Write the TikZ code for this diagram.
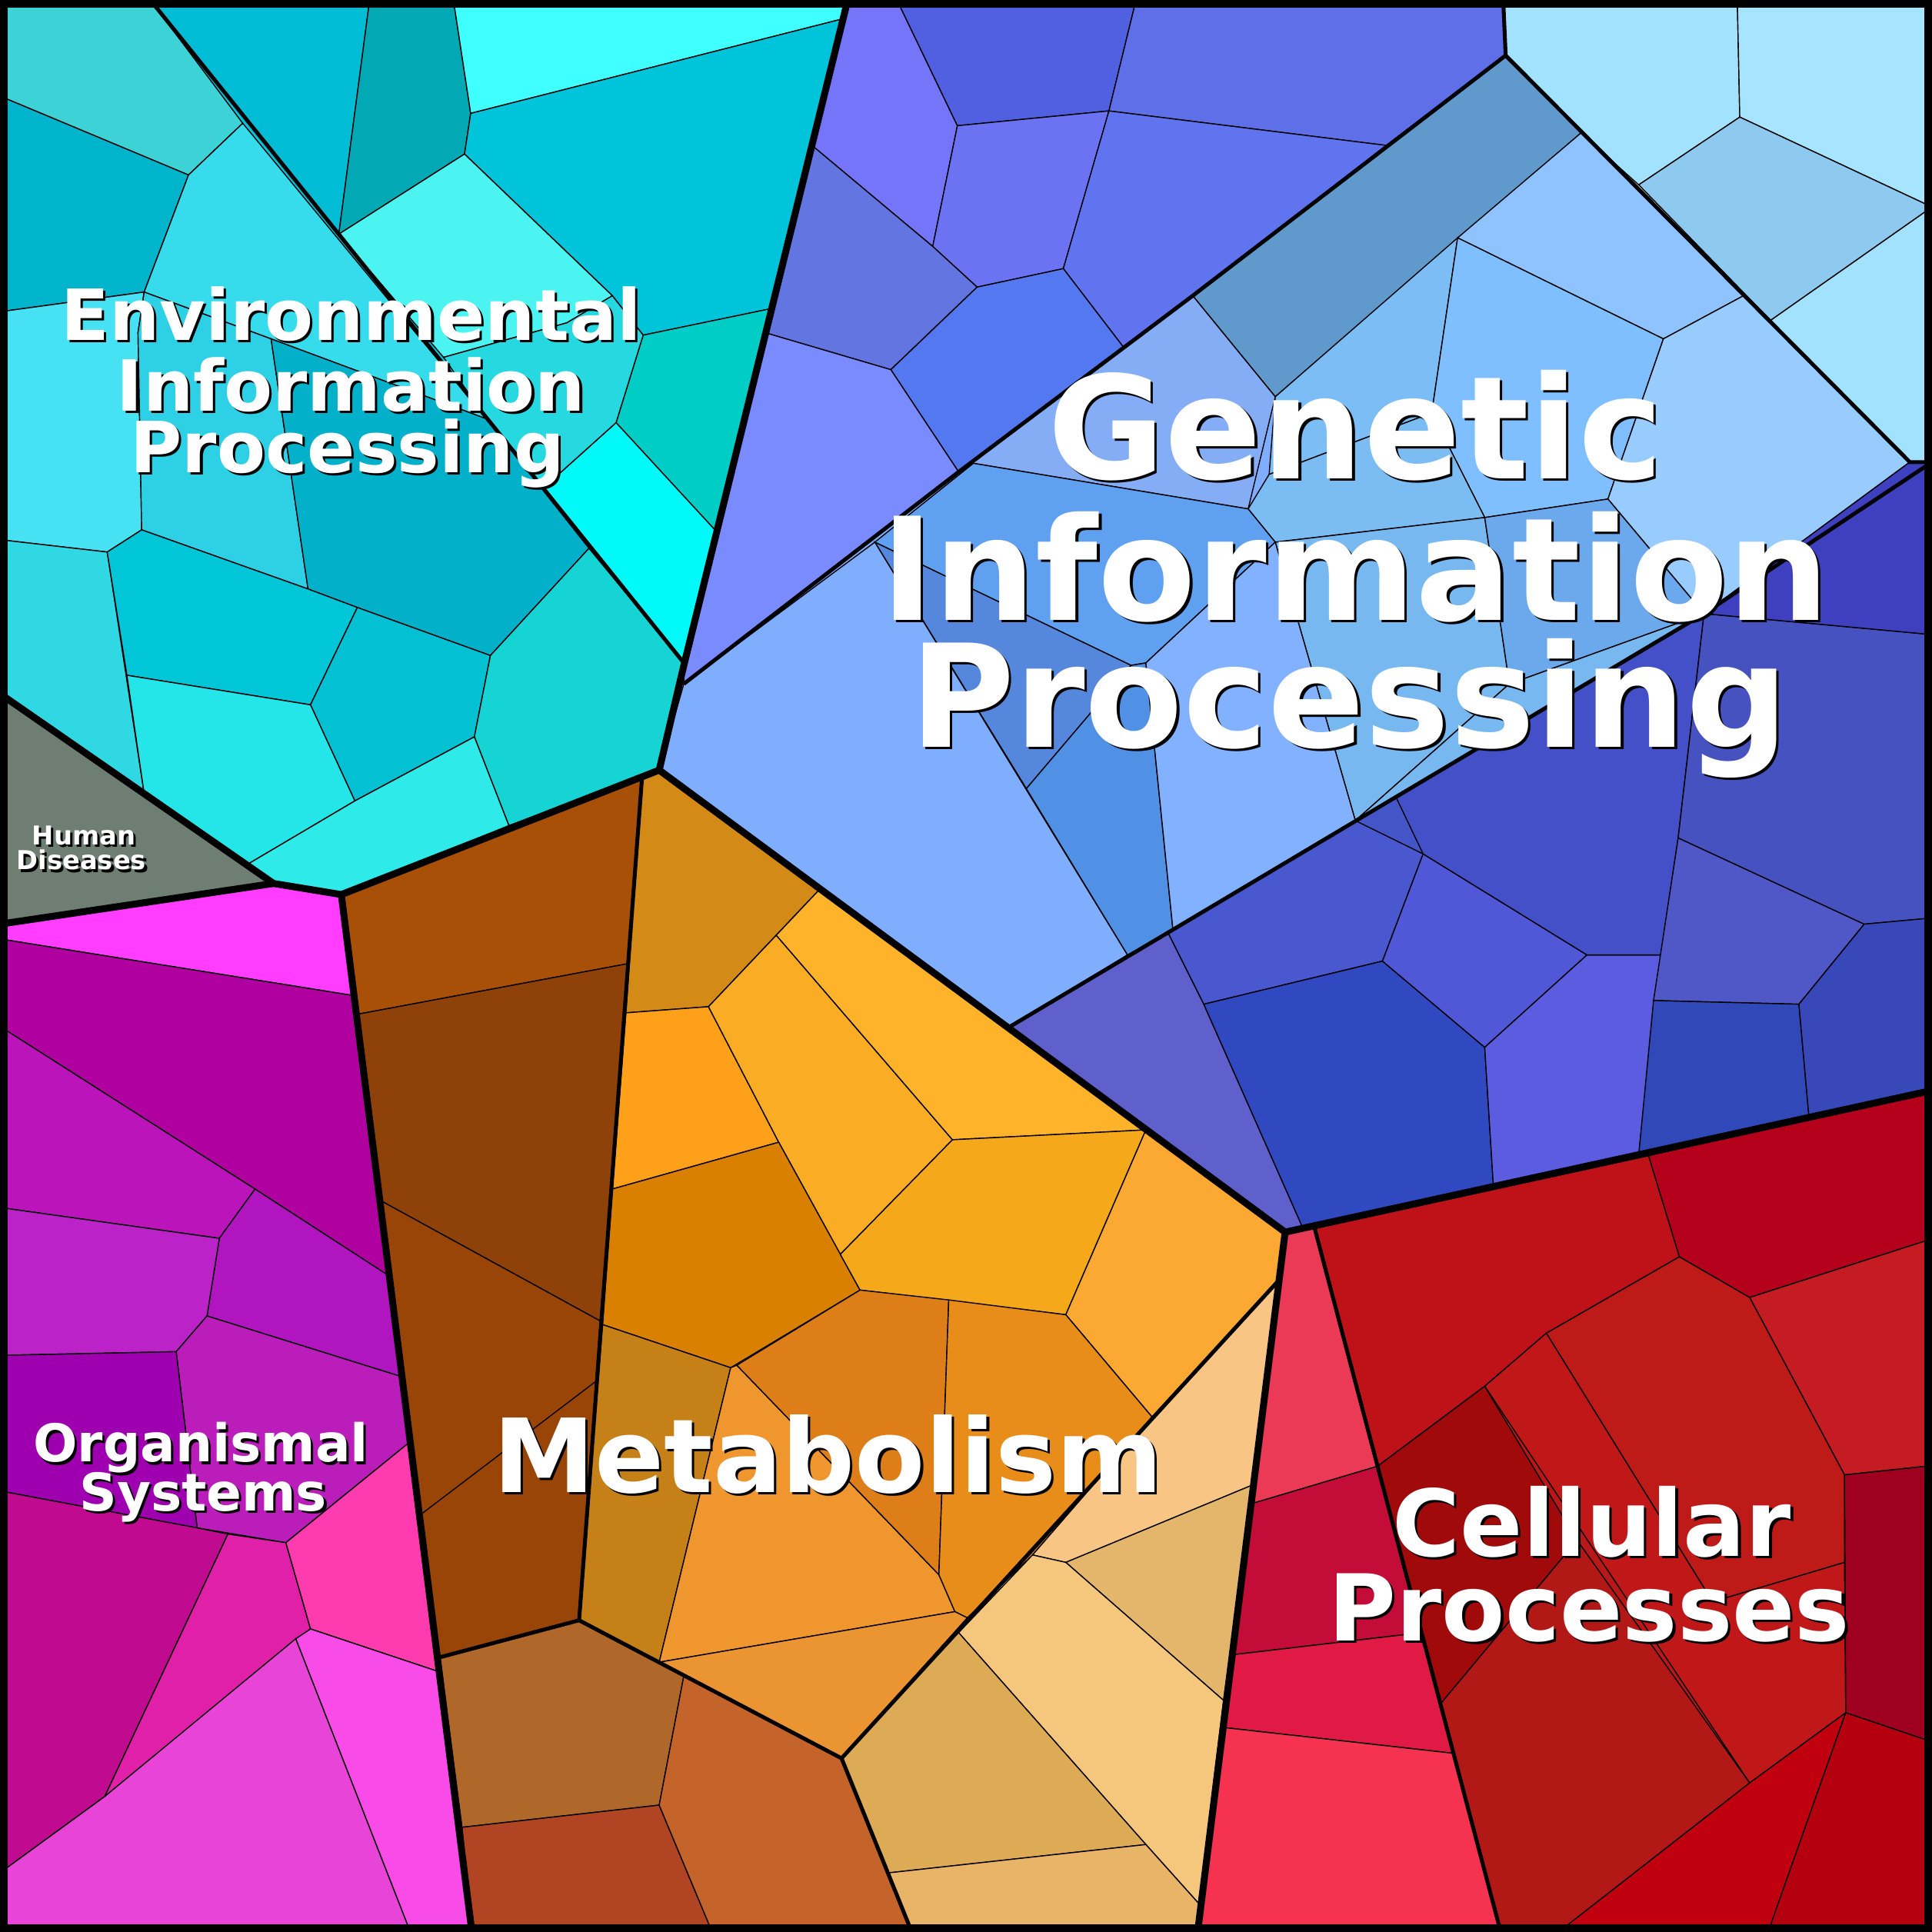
\documentclass[tikz,border=0pt]{standalone}
\usepackage{fontspec}
\setmainfont{DejaVu Sans}
\begin{document}
\begin{tikzpicture}[x=0.01cm,y=-0.01cm,
 cellline/.style={draw=black,line width=0.25pt},
 band/.style={draw=black,line width=0.9pt},
 main/.style={draw=black,line width=1.6pt,line join=round},
 lbl/.style={text=white,font=\bfseries,align=center,inner sep=0pt}]
\newcommand\cell[2]{\definecolor{tmpc}{HTML}{#1}\filldraw[cellline,fill=tmpc] #2 -- cycle;}
\newcommand\base[2]{\definecolor{tmpc}{HTML}{#1}\fill[tmpc] #2 -- cycle;}
\newcommand\lab[4]{\node[lbl,text=black,font=\bfseries\fontsize{#3}{#3}\selectfont] at ([shift={(2,2)}]#1) {#4};
 \node[lbl,font=\bfseries\fontsize{#3}{#3}\selectfont] (#2) at (#1) {#4};}
\useasboundingbox (0,0) rectangle (1568,1568);
% base fills
\base{00C4DA}{(0,0)--(688,0)--(555,540)--(535,625)--(277,726)--(222,717)--(0,563)}
\base{80AEFF}{(555,555)--(1222,45)--(1550,375)--(820,833)--(535,625)}
\base{4455C8}{(820,833)--(1563,375)--(1563,885)--(1043,1000)}
\base{B81818}{(1043,1000)--(1563,885)--(1563,1568)--(972,1568)}
% Environmental cells
\cell{3DD3D6}{(0,0)--(122,0)--(197,100)--(153,142)--(0,78)}
\cell{00B4CC}{(0,78)--(153,142)--(117,237)--(0,253)}
\cell{00BCD4}{(122,0)--(300,0)--(275,190)}
\cell{02A9B5}{(300,0)--(368,0)--(382,92)--(377,125)--(275,190)}
\cell{40FFFF}{(368,0)--(688,0)--(685,15)--(382,92)}
\cell{00C4DA}{(382,92)--(685,15)--(628,250)--(522,272)--(497,240)--(377,125)}
\cell{4BF4F0}{(275,190)--(377,125)--(497,240)--(460,262)--(360,290)}
\cell{00CEC6}{(522,272)--(628,250)--(582,432)--(500,343)}
\cell{00FAFA}{(500,343)--(582,432)--(555,538)--(441,396)}
\cell{26D9E0}{(360,290)--(460,262)--(497,240)--(522,272)--(500,343)--(441,396)--(395,340)}
\cell{36DCEC}{(153,142)--(197,100)--(395,340)--(220,275)--(117,237)}
\cell{46E2F4}{(0,253)--(117,237)--(112,270)--(115,430)--(87,448)--(0,438)}
\cell{2ED0E5}{(117,237)--(220,275)--(250,478)--(115,430)--(112,270)}
\cell{02B0CA}{(220,275)--(395,340)--(478,445)--(398,532)--(290,493)--(250,478)}
\cell{30D8E4}{(0,438)--(87,448)--(117,644)--(0,563)}
\cell{00C6D8}{(87,448)--(115,430)--(250,478)--(290,493)--(252,572)--(103,548)}
\cell{03C0D2}{(290,493)--(398,532)--(385,598)--(288,650)--(252,572)}
\cell{17D4D4}{(398,532)--(478,445)--(555,538)--(535,625)--(413,670)--(385,598)}
\cell{24E5E8}{(103,548)--(252,572)--(288,650)--(200,702)--(117,644)}
\cell{2EEAE8}{(288,650)--(385,598)--(413,670)--(277,726)--(222,717)--(200,702)}
\cell{6E7E72}{(0,563)--(222,717)--(0,750)}
% Organismal
\cell{FF3CFF}{(0,750)--(222,717)--(277,726)--(287,808)--(0,762)}
\cell{B0009F}{(0,762)--(287,808)--(315,1035)--(207,965)--(0,833)}
\cell{BA14BA}{(0,833)--(207,965)--(178,1005)--(0,980)}
\cell{B015C0}{(207,965)--(315,1035)--(325,1117)--(168,1068)--(178,1005)}
\cell{BB22C8}{(0,980)--(178,1005)--(168,1068)--(143,1097)--(0,1100)}
\cell{BB1DBB}{(143,1097)--(168,1068)--(325,1117)--(333,1170)--(232,1252)--(160,1240)}
\cell{9F00AF}{(0,1100)--(143,1097)--(160,1240)--(0,1210)}
\cell{C00A90}{(0,1210)--(160,1240)--(185,1245)--(85,1458)--(0,1520)}
\cell{E020A8}{(185,1245)--(232,1252)--(252,1322)--(85,1458)}
\cell{FF3BB0}{(232,1252)--(333,1170)--(357,1357)--(252,1322)}
\cell{F84BE8}{(252,1322)--(357,1357)--(383,1568)--(333,1568)--(240,1330)}
\cell{E845D8}{(0,1520)--(85,1458)--(240,1330)--(333,1568)--(0,1568)}
% Metabolism
\cell{A85007}{(277,726)--(521,632)--(510,782)--(291,823)}
\cell{8E4209}{(291,823)--(510,782)--(487,1072)--(310,975)}
\cell{9A4508}{(310,975)--(487,1072)--(470,1315)--(357,1345)}
\draw[cellline] (343,1228)--(485,1120);
\cell{D48A16}{(521,632)--(535,625)--(665,722)--(575,817)--(508,822)}
\cell{FFA01A}{(508,822)--(575,817)--(632,927)--(497,965)}
\cell{FAAC25}{(575,817)--(630,759)--(773,925)--(682,1018)--(632,927)}
\cell{FFB32A}{(630,759)--(665,722)--(930,917)--(773,925)}
\cell{D98000}{(497,965)--(632,927)--(698,1047)--(593,1110)--(489,1075)}
\cell{F5A819}{(698,1047)--(682,1018)--(773,925)--(930,917)--(865,1067)}
\cell{FCA933}{(930,917)--(1043,1000)--(1037,1040)--(935,1150)--(865,1067)}
\cell{C58118}{(489,1075)--(593,1110)--(535,1349)--(470,1315)}
\cell{F0962E}{(593,1110)--(598,1108)--(762,1278)--(775,1308)--(535,1349)}
\cell{DE7E18}{(598,1108)--(698,1047)--(770,1055)--(762,1278)}
\cell{E88C1A}{(770,1055)--(865,1067)--(935,1150)--(838,1262)--(785,1313)--(775,1308)--(762,1278)}
\cell{EA9432}{(535,1349)--(775,1308)--(785,1313)--(683,1427)--(555,1360)}
\cell{F8C585}{(1037,1040)--(1017,1205)--(865,1268)--(838,1262)--(935,1150)}
\cell{E4B66C}{(865,1268)--(1017,1205)--(993,1380)}
\cell{F5C77C}{(838,1262)--(865,1268)--(993,1380)--(973,1545)--(930,1497)--(778,1325)}
\cell{DDAA55}{(778,1325)--(930,1497)--(721,1520)--(683,1427)}
\cell{E8B468}{(721,1520)--(930,1497)--(973,1545)--(972,1568)--(740,1568)}
\cell{B0672A}{(357,1345)--(470,1315)--(555,1360)--(535,1465)--(375,1483)}
\cell{B04423}{(375,1483)--(535,1465)--(578,1568)--(383,1568)}
\cell{C4632A}{(555,1360)--(683,1427)--(740,1568)--(578,1568)--(535,1465)}
% Cellular
\cell{EA3A55}{(1043,1000)--(1067,997)--(1118,1190)--(1017,1220)--(1037,1040)}
\cell{BF1218}{(1067,997)--(1338,938)--(1363,1020)--(1255,1082)--(1205,1125)--(1118,1190)}
\cell{B5001B}{(1338,938)--(1563,885)--(1563,1007)--(1420,1053)--(1363,1020)}
\cell{C41C22}{(1420,1053)--(1563,1007)--(1563,1190)--(1497,1197)}
\cell{BE1A18}{(1255,1082)--(1363,1020)--(1420,1053)--(1497,1197)--(1497,1268)--(1390,1300)}
\cell{C01818}{(1205,1125)--(1255,1082)--(1390,1300)--(1497,1268)--(1498,1390)--(1420,1447)}
\cell{A00A0A}{(1118,1190)--(1205,1125)--(1280,1250)--(1169,1383)--(1154,1325)}
\cell{B21815}{(1169,1383)--(1280,1250)--(1420,1447)--(1265,1568)--(1218,1568)}
\cell{C0000E}{(1420,1447)--(1498,1390)--(1435,1568)--(1265,1568)}
\cell{A00020}{(1497,1197)--(1563,1190)--(1563,1412)--(1498,1390)}
\cell{B50010}{(1498,1390)--(1563,1412)--(1563,1568)--(1435,1568)}
\cell{C40C38}{(1017,1220)--(1118,1190)--(1154,1325)--(1000,1343)}
\cell{E01A45}{(1000,1343)--(1154,1325)--(1180,1423)--(993,1402)}
\cell{F53350}{(993,1402)--(1180,1423)--(1218,1568)--(972,1568)}
% Genetic upper band
\cell{7575FA}{(688,0)--(728,0)--(777,102)--(757,200)--(659,118)}
\cell{5060E0}{(728,0)--(922,0)--(900,90)--(777,102)}
\cell{5F6FE8}{(922,0)--(1220,0)--(1222,45)--(1125,118)--(900,90)}
\cell{6B73F2}{(777,102)--(900,90)--(863,218)--(793,233)--(757,200)}
\cell{6074F0}{(900,90)--(1125,118)--(968,240)--(912,282)--(863,218)}
\cell{6275E0}{(659,118)--(757,200)--(793,233)--(723,300)--(621,270)}
\cell{5378F0}{(793,233)--(863,218)--(912,282)--(778,383)--(723,300)}
\cell{7A8AFF}{(621,270)--(723,300)--(778,383)--(555,555)--(555,540)}
% top right
\cell{A2E2FF}{(1220,0)--(1410,0)--(1412,95)--(1330,150)--(1283,108)--(1222,45)}
\cell{A6E4FF}{(1410,0)--(1568,0)--(1568,168)--(1412,95)}
\cell{8ECAF0}{(1330,150)--(1412,95)--(1568,168)--(1437,260)}
\cell{A2E2FF}{(1437,260)--(1568,168)--(1568,375)--(1550,375)}
% middle band
\cell{6099CC}{(968,240)--(1222,45)--(1283,108)--(1035,322)}
\cell{84ADF5}{(778,383)--(968,240)--(1035,322)--(1013,413)--(790,376)}
\cell{8EC3FF}{(1283,108)--(1415,240)--(1350,275)--(1183,193)}
\cell{7CBDF5}{(1035,322)--(1183,193)--(1162,335)--(1030,385)}
\cell{80BFFF}{(1183,193)--(1350,275)--(1305,405)--(1205,420)--(1162,335)}
\cell{98CCFF}{(1350,275)--(1415,240)--(1550,375)--(1383,498)--(1305,405)}
\cell{7BBCF2}{(1013,413)--(1030,385)--(1162,335)--(1205,420)--(1035,440)}
\cell{78B8F0}{(1035,440)--(1205,420)--(1225,555)--(1100,666)}
\cell{78B8F0}{(1100,666)--(1225,555)--(1383,498)}
\cell{6CA8EC}{(1205,420)--(1305,405)--(1383,498)--(1225,555)}
\cell{5FA0F0}{(710,440)--(790,376)--(1013,413)--(1035,440)--(930,538)--(918,540)}
\cell{5588DD}{(710,440)--(918,540)--(833,640)}
\cell{5090E5}{(833,640)--(918,540)--(930,538)--(952,755)--(915,775)}
\cell{82B2FF}{(930,538)--(1035,440)--(1100,666)--(952,755)}
\cell{80AEFF}{(555,555)--(710,440)--(915,775)--(820,833)--(535,625)}
% lower band
\cell{6060CC}{(820,833)--(948,757)--(977,815)--(1058,998)--(1043,1000)}
\cell{4A58D0}{(948,757)--(1100,666)--(1155,693)--(1122,780)--(977,815)}
\cell{3048C0}{(977,815)--(1122,780)--(1205,850)--(1212,962)--(1058,998)}
\cell{5058D8}{(1122,780)--(1155,693)--(1288,775)--(1205,850)}
\cell{5C5CE0}{(1205,850)--(1288,775)--(1348,775)--(1330,937)--(1212,962)}
\cell{4450C8}{(1155,693)--(1133,647)--(1383,498)--(1362,680)--(1348,775)--(1288,775)}
\cell{5058C8}{(1362,680)--(1513,750)--(1460,815)--(1342,812)}
\cell{3048B8}{(1342,812)--(1460,815)--(1468,905)--(1330,937)}
\cell{4652C0}{(1383,498)--(1568,515)--(1568,745)--(1513,750)--(1362,680)}
\cell{3E40C0}{(1383,498)--(1550,375)--(1568,375)--(1568,515)}
\cell{3848B8}{(1460,815)--(1513,750)--(1568,745)--(1568,885)--(1468,905)}
% band lines
\draw[band] (555,555)--(778,383)--(968,240)--(1222,45)--(1220,0);
\draw[band] (1222,45)--(1550,375)--(1568,375);
\draw[band] (820,833)--(1383,498)--(1568,375);
\draw[band] (122,0)--(555,538);
\draw[band] (521,632)--(470,1315)--(357,1345);
\draw[band] (470,1315)--(683,1427)--(1037,1040);
\draw[band] (683,1427)--(740,1568);
\draw[band] (1067,997)--(1218,1568);
% main boundaries
\draw[main] (688,0)--(555,540)--(535,625)--(277,726)--(222,717)--(0,563);
\draw[main] (222,717)--(0,750);
\draw[main] (277,726)--(383,1568);
\draw[main] (535,625)--(1043,1000)--(972,1568);
\draw[main] (1043,1000)--(1568,885);
\draw[line width=1.7pt] (3,3) rectangle (1565,1565);
% labels
\lab{1100,345}{g1}{33}{Genetic}
\lab{1100,460}{g2}{33}{Information}
\lab{1095,575}{g3}{33}{Processing}
\lab{285,255}{e1}{16.3}{Environmental}
\lab{285,312}{e2}{16.3}{Information}
\lab{282,368}{e3}{16.3}{Processing}
\lab{672,1180}{m}{23.6}{Metabolism}
\lab{1292,1235}{c1}{21.3}{Cellular}
\lab{1290,1305}{c2}{21.3}{Processes}
\lab{163,1175}{o1}{12}{Organismal}
\lab{165,1215}{o2}{12}{Systems}
\lab{68,678}{h1}{6}{Human}
\lab{66,698}{h2}{6}{Diseases}
\end{tikzpicture}
\end{document}
